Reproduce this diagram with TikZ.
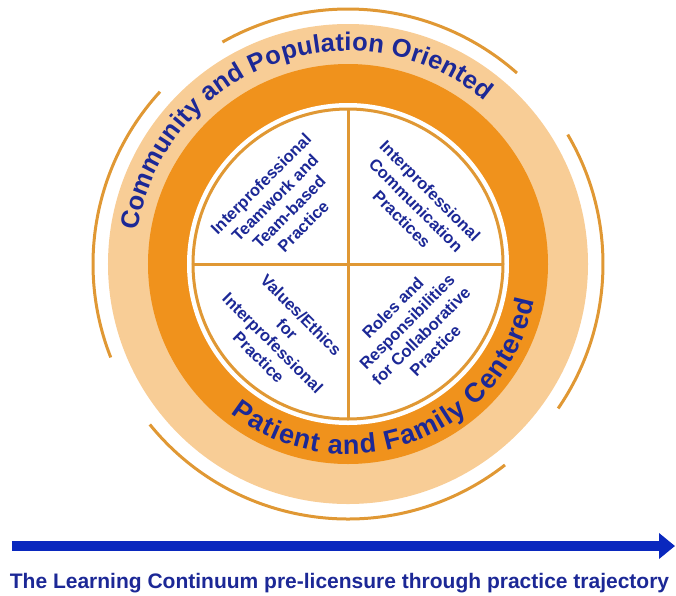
\documentclass[tikz,border=0pt]{standalone}
\usepackage{fontspec}
\setmainfont{Liberation Sans}
\usepackage{tikz}
\usetikzlibrary{arrows.meta, decorations.text}

\definecolor{ringlight}{RGB}{248,205,150}
\definecolor{ringdark}{RGB}{240,146,28}
\definecolor{rimline}{RGB}{224,152,52}
\definecolor{labelblue}{RGB}{28,40,150}
\definecolor{arrowblue}{RGB}{10,40,190}

\begin{document}
\begin{tikzpicture}[
	x=1pt, y=1pt,
	every node/.style={font=\fontsize{16.5}{20}\selectfont\bfseries, text=labelblue},
	quadrant/.style={align=center, inner sep=0pt},
	rim/.style={draw=rimline, line width=3pt},
	arrow/.style={line width=10pt, draw=arrowblue, -{Triangle[length=16pt, width=25pt]}},
	ringtext/.style={decorate, decoration={text along path, text align=fit to path, text color=labelblue}}
	]
	\useasboundingbox (-348,-331) rectangle (328,264);
	
	% Rings
	\fill[ringlight] (0,0) circle[radius=240pt];
	\fill[ringdark] (0,0) circle[radius=200pt];
	\fill[white] (0,0) circle[radius=161pt];
	\draw[rim] (0,0) circle[radius=155pt];
	\draw[rim] (-155,0) -- (155,0);
	\draw[rim] (0,-155) -- (0,155);
	
	% Outer arcs
	\foreach \a/\b in {48.5/119.5, 137.5/201.5, 219/308, -34.5/30.5}
		\draw[rim] (\a:255pt) arc[start angle=\a, end angle=\b, radius=255pt];
	
	% Ring labels
	\path[ringtext, decoration={text={|\fontsize{25.5}{25.5}\selectfont\bfseries|Community and Population Oriented}}]
		(171:213pt) arc[start angle=171, end angle=50, radius=213pt];
	\path[ringtext, decoration={text={|\fontsize{27}{27}\selectfont\bfseries|Patient and Family Centered}}]
		(232:190pt) arc[start angle=232, end angle=349, radius=190pt];
	
	% Nodes
	\node[quadrant, rotate=45] (teamwork) at (-66,59) {Interprofessional\\Teamwork and\\Team-based\\Practice};
	\node[quadrant, rotate=-45] (communication) at (68,59) {Interprofessional\\Communication\\Practices};
	\node[quadrant, rotate=-45] (values) at (-68,-72) {Values/Ethics\\for\\Interprofessional\\Practice};
	\node[quadrant, rotate=45] (roles) at (66,-65) {Roles and\\Responsibilities\\for Collaborative\\Practice};
	
	% Arrow
	\coordinate (start) at (-336,-282);
	\coordinate (end) at (327,-282);
	\draw[arrow] (start) -- (end);
	
	% Labels
	\node[anchor=base, font=\fontsize{21}{21}\selectfont\bfseries] (continuum) at (-8.5,-324) {The Learning Continuum pre-licensure through practice trajectory};
\end{tikzpicture}
\end{document}
